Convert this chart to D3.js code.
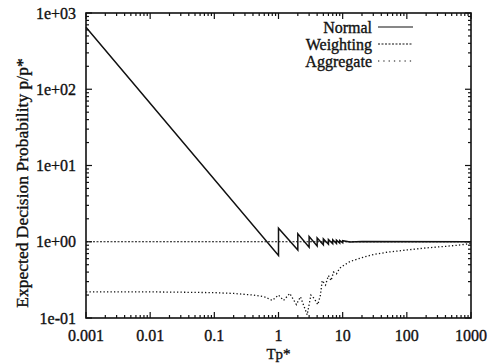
<!DOCTYPE html>
<html>
<head>
<meta charset="utf-8">
<script src="https://cdn.jsdelivr.net/npm/d3@7"></script>
<style>
  body { margin: 0; background: #fff; }
  svg text { font-family: "Liberation Serif", "DejaVu Serif", serif; fill: #111; stroke: #111; stroke-width: 0.35px; }
</style>
</head>
<body>
<div id="chart"></div>
<script>
// Expected decision probability vs Tp* (log-log), three policies

const xTickValues = [0.001, 0.01, 0.1, 1, 10, 100, 1000];
const xTickLabels = ['0.001', '0.01', '0.1', '1', '10', '100', '1000'];
const yTickValues = [0.1, 1, 10, 100, 1000];
const yTickLabels = ['1e-01', '1e+00', '1e+01', '1e+02', '1e+03'];

const seriesNames = ['Normal', 'Weighting', 'Aggregate'];

// [Tp*, p/p*]
const normalPts = [
  [0.001, 650], [1, 0.66], [1, 1.5], [2, 0.78], [2, 1.27], [3, 0.85], [3, 1.17],
  [4, 0.88], [4, 1.12], [5, 0.91], [5, 1.09], [6, 0.93], [6, 1.07], [7, 0.94],
  [7, 1.06], [8, 0.95], [8, 1.05], [9, 0.96], [9, 1.04], [10, 0.97], [10, 1.03],
  [13, 0.99], [20, 1.01], [1000, 1.0]
];
const weightingPts = [[0.001, 1.0], [1000, 1.0]];
const aggregatePts = [
  [0.001, 0.22], [0.01, 0.22], [0.03, 0.218], [0.1, 0.215], [0.2, 0.21], [0.4, 0.2],
  [0.6, 0.19], [0.8, 0.17], [1.0, 0.2], [1.2, 0.17], [1.5, 0.21], [1.9, 0.15],
  [2.2, 0.19], [2.8, 0.11], [3.2, 0.2], [3.6, 0.18], [4.1, 0.15], [4.5, 0.2],
  [4.8, 0.31], [5.4, 0.27], [6.0, 0.36], [6.6, 0.31], [7.2, 0.4], [8, 0.38],
  [9, 0.45], [10, 0.48], [13, 0.55], [20, 0.62], [30, 0.68], [50, 0.73],
  [100, 0.78], [200, 0.83], [400, 0.87], [700, 0.91], [1000, 0.95]
];

const W = 492, H = 364;
const margin = { top: 13, right: 21, bottom: 46, left: 86 };
const iw = W - margin.left - margin.right;
const ih = H - margin.top - margin.bottom;

const svg = d3.select('#chart').append('svg')
  .attr('width', W).attr('height', H);

const x = d3.scaleLog().domain([0.001, 1000]).range([margin.left, margin.left + iw]);
const y = d3.scaleLog().domain([0.1, 1000]).range([margin.top + ih, margin.top]);

// minor log ticks (2..9 per decade)
const minorX = [], minorY = [];
for (let e = -3; e < 3; e++) for (let k = 2; k <= 9; k++) minorX.push(k * Math.pow(10, e));
for (let e = -1; e < 3; e++) for (let k = 2; k <= 9; k++) minorY.push(k * Math.pow(10, e));

const tickCol = '#111';
const axes = svg.append('g').attr('stroke', tickCol).attr('stroke-width', 1.2);

// ticks pointing inward on all four sides
function xTicks(vals, len) {
  vals.forEach(v => {
    axes.append('line').attr('x1', x(v)).attr('x2', x(v))
      .attr('y1', margin.top + ih).attr('y2', margin.top + ih - len);
    axes.append('line').attr('x1', x(v)).attr('x2', x(v))
      .attr('y1', margin.top).attr('y2', margin.top + len);
  });
}
function yTicks(vals, len) {
  vals.forEach(v => {
    axes.append('line').attr('y1', y(v)).attr('y2', y(v))
      .attr('x1', margin.left).attr('x2', margin.left + len);
    axes.append('line').attr('y1', y(v)).attr('y2', y(v))
      .attr('x1', margin.left + iw).attr('x2', margin.left + iw - len);
  });
}
xTicks(xTickValues, 6); xTicks(minorX, 3);
yTicks(yTickValues, 6); yTicks(minorY, 3);

// tick labels
svg.append('g').selectAll('text').data(xTickValues).enter().append('text')
  .attr('x', d => x(d)).attr('y', margin.top + ih + 23)
  .attr('text-anchor', 'middle').attr('font-size', '16px')
  .text((d, i) => xTickLabels[i]);

svg.append('g').selectAll('text').data(yTickValues).enter().append('text')
  .attr('x', margin.left - 10).attr('y', d => y(d)).attr('dy', '0.35em')
  .attr('text-anchor', 'end').attr('font-size', '16px')
  .text((d, i) => yTickLabels[i]);

// axis titles
svg.append('text')
  .attr('x', x(1)).attr('y', margin.top + ih + 41)
  .attr('text-anchor', 'middle').attr('font-size', '15px')
  .text('Tp*');

svg.append('text')
  .attr('transform', `translate(28,183) rotate(-90)`)
  .attr('text-anchor', 'middle').attr('font-size', '17.5px')
  .text('Expected Decision Probability p/p*');

// series
const line = d3.line().x(d => x(d[0])).y(d => y(d[1]));
const plot = svg.append('g').attr('fill', 'none').attr('stroke', '#111');

plot.append('path').datum(weightingPts).attr('d', line)
  .attr('stroke-width', 1.2).attr('stroke-dasharray', '2,1.5');
plot.append('path').datum(aggregatePts).attr('d', line)
  .attr('stroke-width', 1.3).attr('stroke-dasharray', '1.3,2.2');
plot.append('path').datum(normalPts).attr('d', line)
  .attr('stroke-width', 1.5);

// frame
svg.append('rect')
  .attr('x', margin.left).attr('y', margin.top).attr('width', iw).attr('height', ih)
  .attr('fill', 'none').attr('stroke', '#111').attr('stroke-width', 1.6);

// legend
const dashes = [null, '2,1.5', '1.3,4'];
const leg = svg.append('g');
seriesNames.forEach((name, i) => {
  const cy = 27 + i * 17;
  leg.append('text').attr('x', 372).attr('y', cy).attr('dy', '0.35em')
    .attr('text-anchor', 'end').attr('font-size', '16px').text(name);
  leg.append('line').attr('x1', 378).attr('x2', 413).attr('y1', cy).attr('y2', cy)
    .attr('stroke', '#111').attr('stroke-width', 1.2)
    .attr('stroke-dasharray', dashes[i]);
});
</script>
</body>
</html>
